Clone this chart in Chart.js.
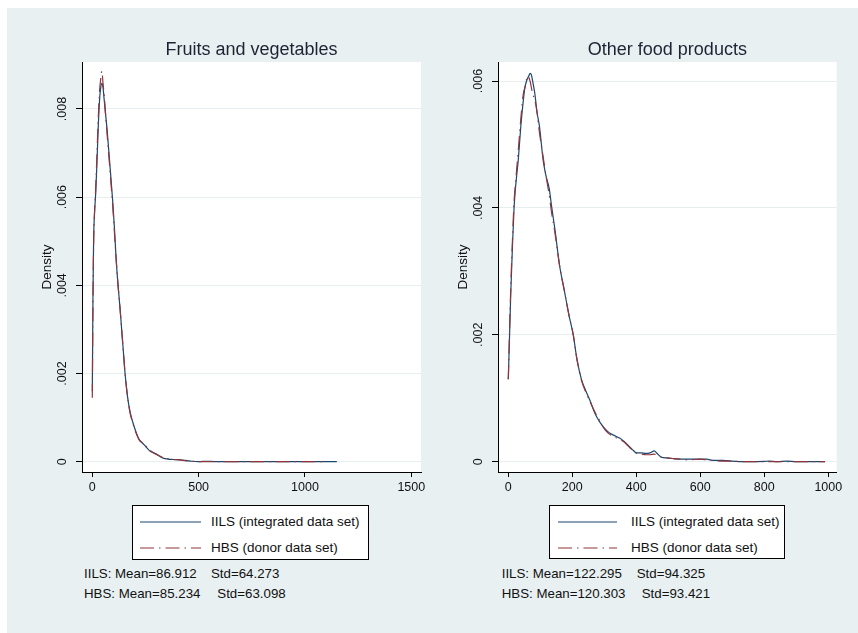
<!DOCTYPE html>
<html>
<head>
<meta charset="utf-8">
<title>Density comparison</title>
<script src="https://cdn.jsdelivr.net/npm/chart.js@4.4.1/dist/chart.umd.min.js"></script>
<style>
  body { margin: 0; background: #fff; font-family: "Liberation Sans", Arial, sans-serif; color: #111; }
  #page { position: relative; width: 858px; height: 633px; overflow: hidden; }
  #bg { position: absolute; left: 7px; top: 8px; right: 0; bottom: 0; background: #e8f0f2; }
  canvas { position: absolute; top: 0; }
  .legend { position: absolute; background: #fff; border: 1px solid #000; box-sizing: border-box; }
  .legend svg { position: absolute; }
  .legend span, .note { position: absolute; white-space: pre; font-size: 13.5px; line-height: 16px; }
  .note { font-size: 13.3px; }
</style>
</head>
<body>
<div id="page">
  <div id="bg"></div>
  <canvas id="fv" width="440" height="500" style="left:0"></canvas>
  <canvas id="of" width="418" height="500" style="left:440px"></canvas>
</div>
<script>
// series names and line styles
var seriesNames = ['IILS (integrated data set)', 'HBS (donor data set)'];
var seriesShort = ['IILS', 'HBS'];
var seriesColors = ['#1a476f', '#90353b'];
var seriesDash = [[], [14, 5, 1.5, 5]];

// Fruits and vegetables: kernel density of expenditure
var fvX = [0, 3, 6, 10, 16, 22, 28, 34, 40, 45, 50, 56, 62, 70, 80, 88, 96, 104, 112, 121,
  130, 138, 146, 154, 165, 177, 190, 205, 220, 235, 250, 271, 290, 303, 320, 333, 355, 380,
  413, 440, 467, 500, 540, 580, 620, 700, 800, 900, 1000, 1100, 1150];
var fvIILS = [0.0016, 0.0037, 0.005, 0.0056, 0.0061, 0.0068, 0.0076, 0.0082, 0.0085, 0.00858,
  0.0085, 0.0082, 0.0079, 0.0075, 0.0069, 0.0064, 0.0059, 0.0053, 0.0046, 0.004,
  0.0035, 0.003, 0.0025, 0.002, 0.0015, 0.00114, 0.0009, 0.00068, 0.0005, 0.00043, 0.00035,
  0.00024, 0.0002, 0.00017, 0.00011, 0.00008, 0.00006, 0.00005, 0.00004, 0.00003, 0.00001,
  0, 0.00001, 0, 0, 0, 0, 0, 0, 0, 0];
var fvHBS = [0.00145, 0.0036, 0.0049, 0.0056, 0.0062, 0.007, 0.0078, 0.0084, 0.0087, 0.00886,
  0.0086, 0.0083, 0.0079, 0.0074, 0.0068, 0.0063, 0.0058, 0.0052, 0.0046, 0.004,
  0.0035, 0.003, 0.0025, 0.002, 0.0015, 0.00112, 0.00088, 0.00066, 0.0005, 0.00042, 0.00036,
  0.00026, 0.00019, 0.00016, 0.00012, 0.00009, 0.00007, 0.00005, 0.00004, 0.00002, 0.00001,
  0, 0, 0, 0, 0, 0, 0, 0, 0, null];
var fvXTicks = [0, 500, 1000, 1500];
var fvXLabels = ['0', '500', '1000', '1500'];
var fvYTicks = [0, 0.002, 0.004, 0.006, 0.008];
var fvYLabels = ['0', '.002', '.004', '.006', '.008'];
var fvMean = ['86.912', '85.234'];
var fvStd = ['64.273', '63.098'];

// Other food products
var ofX = [0, 4, 8, 13, 18, 21, 26, 31, 39, 47, 52, 57, 61, 64, 68, 72, 76, 83, 90, 97, 109,
  118, 128, 136, 146, 160, 175, 190, 203, 215, 229, 242, 255, 271, 284, 297, 312, 328, 349,
  362, 374, 388, 401, 415, 430, 443, 456, 465, 479, 495, 516, 540, 560, 600, 620, 640, 670,
  700, 730, 760, 800, 815, 840, 870, 900, 950, 990];
var ofIILS = [0.0013, 0.002, 0.0027, 0.0034, 0.004, 0.00423, 0.0045, 0.00475, 0.00528, 0.0057,
  0.0059, 0.006, 0.00605, 0.00608, 0.00612, 0.0061, 0.006, 0.0058, 0.0055, 0.0053, 0.00475,
  0.0045, 0.0043, 0.004, 0.00365, 0.0031, 0.0027, 0.0023, 0.002, 0.0016, 0.00129, 0.00112,
  0.00097, 0.00076, 0.00064, 0.00055, 0.00047, 0.00042, 0.00037, 0.00032, 0.00026, 0.00019,
  0.00014, 0.00014, 0.00013, 0.00014, 0.00017, 0.00013, 0.00007, 0.00006, 0.00005, 0.00004,
  0.00004, 0.00004, 0.00004, 0.00002, 0.00002, 0.00001, 0, 0, 0.000005, 0.00001, 0,
  0.00001, 0, 0, 0];
var ofHBS = [0.0013, 0.0021, 0.0028, 0.0035, 0.0041, 0.0043, 0.0046, 0.0049, 0.0054, 0.0058,
  0.0059, 0.00603, 0.00608, 0.00606, 0.006, 0.0059, 0.0058, 0.0057, 0.0055, 0.0052, 0.0048,
  0.0045, 0.0042, 0.0039, 0.0036, 0.0031, 0.0027, 0.0023, 0.002, 0.0016, 0.00128, 0.0011,
  0.00095, 0.00078, 0.00066, 0.00054, 0.00045, 0.0004, 0.00035, 0.00031, 0.00025, 0.00018,
  0.00013, 0.00012, 0.00011, 0.00011, 0.00012, 0.0001, 0.00007, 0.00006, 0.00005, 0.00004,
  0.00003, 0.00004, 0.00003, 0.00002, 0.00001, 0.00001, 0, 0, 0, 0, 0,
  0, 0, 0, 0];
var ofXTicks = [0, 200, 400, 600, 800, 1000];
var ofXLabels = ['0', '200', '400', '600', '800', '1000'];
var ofYTicks = [0, 0.002, 0.004, 0.006];
var ofYLabels = ['0', '.002', '.004', '.006'];
var ofMean = ['122.295', '120.303'];
var ofStd = ['94.325', '93.421'];

Chart.defaults.font.family = '"Liberation Sans", Arial, sans-serif';
Chart.defaults.color = '#111';

// white plot region behind the curves
var plotBg = {
  id: 'plotBg',
  beforeDraw: function(chart) {
    var a = chart.chartArea;
    chart.ctx.save();
    chart.ctx.fillStyle = '#fff';
    chart.ctx.fillRect(a.left, a.top, a.right - a.left, a.bottom - a.top);
    chart.ctx.restore();
  }
};

function points(xs, ys) {
  return xs.map(function(x, i) { return { x: x, y: ys[i] }; });
}

function makePanel(id, title, xs, ys1, ys2, xr, yr, xTicks, xLabels, yTicks, yLabels, geo) {
  var data = [ys1, ys2];
  return new Chart(document.getElementById(id), {
    type: 'line',
    data: {
      datasets: data.map(function(ys, k) {
        return {
          label: seriesNames[k],
          data: points(xs, ys),
          borderColor: seriesColors[k],
          borderDash: seriesDash[k],
          borderWidth: 1.2,
          pointRadius: 0,
          cubicInterpolationMode: 'monotone',
          order: 1 - k
        };
      })
    },
    options: {
      responsive: false,
      animation: false,
      events: [],
      layout: { padding: { top: 30, left: 0, right: geo.right, bottom: 0 } },
      plugins: {
        legend: { display: false },
        tooltip: { enabled: false },
        title: {
          display: true, text: title, fullSize: false, color: '#1c2433',
          font: { size: 18, weight: 'normal' }, padding: { top: 9, bottom: 1.4 }
        }
      },
      scales: {
        x: {
          type: 'linear', min: xr[0], max: xr[1],
          afterBuildTicks: function(s) { s.ticks = xTicks.map(function(v) { return { value: v }; }); },
          afterFit: function(s) { s.height = 28; },
          grid: { drawOnChartArea: false, tickLength: 5, tickColor: '#000' },
          border: { color: '#000', width: 1 },
          ticks: {
            autoSkip: false, maxRotation: 0, padding: 3, font: { size: 12.5 },
            callback: function(v, i) { return xLabels[i]; }
          }
        },
        y: {
          type: 'linear', min: yr[0], max: yr[1],
          afterBuildTicks: function(s) { s.ticks = yTicks.map(function(v) { return { value: v }; }); },
          afterFit: function(s) { s.width = geo.yWidth; },
          grid: { color: '#e6eef0', tickLength: 6, tickColor: '#000' },
          border: { color: '#000', width: 1 },
          ticks: {
            minRotation: 90, maxRotation: 90, crossAlign: 'center', padding: geo.tickPad,
            font: { size: 12.5 },
            callback: function(v, i) { return yLabels[i]; }
          },
          title: {
            display: true, text: 'Density', font: { size: 13.5 },
            padding: { top: geo.titlePad, bottom: 0 }
          }
        }
      }
    },
    plugins: [plotBg]
  });
}

// legend box and the summary lines under each panel
function addLegend(box) {
  var page = document.getElementById('page');
  var div = document.createElement('div');
  div.className = 'legend';
  div.style.left = box.left + 'px';
  div.style.top = box.top + 'px';
  div.style.width = box.width + 'px';
  div.style.height = box.height + 'px';
  seriesNames.forEach(function(name, k) {
    var cy = box.rows[k];
    var svg = document.createElementNS('http://www.w3.org/2000/svg', 'svg');
    svg.setAttribute('width', box.swatchW);
    svg.setAttribute('height', 6);
    svg.style.left = box.swatchX + 'px';
    svg.style.top = (cy - 3) + 'px';
    var ln = document.createElementNS('http://www.w3.org/2000/svg', 'line');
    ln.setAttribute('x1', 0); ln.setAttribute('x2', box.swatchW);
    ln.setAttribute('y1', 3); ln.setAttribute('y2', 3);
    ln.setAttribute('stroke', seriesColors[k]);
    ln.setAttribute('stroke-width', 1.2);
    if (seriesDash[k].length) ln.setAttribute('stroke-dasharray', seriesDash[k].join(' '));
    svg.appendChild(ln);
    div.appendChild(svg);
    var t = document.createElement('span');
    t.textContent = name;
    t.style.left = box.textX + 'px';
    t.style.top = (cy - 8) + 'px';
    div.appendChild(t);
  });
  page.appendChild(div);
}

function addNotes(n, means, stds) {
  var page = document.getElementById('page');
  seriesShort.forEach(function(s, k) {
    var a = document.createElement('div');
    a.className = 'note';
    a.textContent = s + ': Mean=' + means[k];
    a.style.left = n.left + 'px';
    a.style.top = (n.rows[k] - 8) + 'px';
    page.appendChild(a);
    var b = document.createElement('div');
    b.className = 'note';
    b.textContent = 'Std=' + stds[k];
    b.style.left = n.stdX[k] + 'px';
    b.style.top = (n.rows[k] - 8) + 'px';
    page.appendChild(b);
  });
}

makePanel('fv', 'Fruits and vegetables', fvX, fvIILS, fvHBS, [-48.5, 1545.6], [-0.000234, 0.009066],
  fvXTicks, fvXLabels, fvYTicks, fvYLabels, { yWidth: 82, right: 19, tickPad: 1.5, titlePad: 38.9 });
makePanel('of', 'Other food products', ofX, ofIILS, ofHBS, [-32.2, 1026.3], [-0.000162, 0.0063],
  ofXTicks, ofXLabels, ofYTicks, ofYLabels, { yWidth: 58, right: 21.3, tickPad: 1.3, titlePad: 14.9 });

addLegend({ left: 132, top: 505, width: 237, height: 55, rows: [16, 42], swatchX: 7, swatchW: 61, textX: 78 });
addLegend({ left: 549, top: 505, width: 236, height: 54, rows: [16, 42], swatchX: 8, swatchW: 59, textX: 81 });
addNotes({ left: 84, rows: [574, 594], stdX: [211, 217.3] }, fvMean, fvStd);
addNotes({ left: 501.7, rows: [574, 594], stdX: [636.7, 641.7] }, ofMean, ofStd);
</script>
</body>
</html>
